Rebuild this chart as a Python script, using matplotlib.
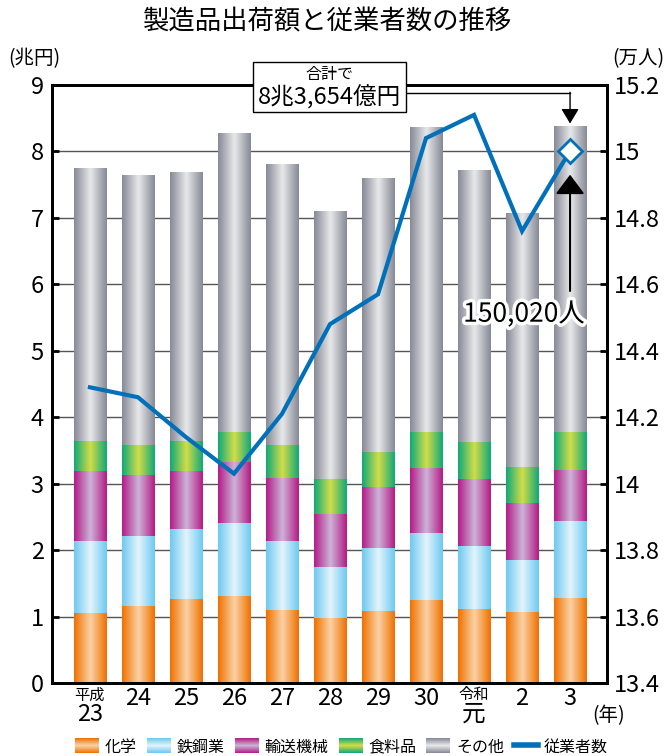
import numpy as np
import matplotlib
matplotlib.use('Agg')
import matplotlib.pyplot as plt
import matplotlib.patheffects as pe
from matplotlib.colors import LinearSegmentedColormap
from matplotlib.legend_handler import HandlerBase
from matplotlib.image import BboxImage
from matplotlib.transforms import Bbox, TransformedBbox
from matplotlib.lines import Line2D
from matplotlib.patches import Rectangle

plt.rcParams['font.family'] = ['Noto Sans CJK JP', 'DejaVu Sans']

# data (兆円)
years = ['23', '24', '25', '26', '27', '28', '29', '30', '元', '2', '3']
chemical = [1.05, 1.16, 1.26, 1.31, 1.10, 0.98, 1.08, 1.25, 1.11, 1.07, 1.28]
steel = [1.09, 1.05, 1.06, 1.10, 1.04, 0.77, 0.95, 1.01, 0.95, 0.78, 1.16]
transport = [1.05, 0.92, 0.87, 0.92, 0.95, 0.80, 0.92, 0.98, 1.01, 0.86, 0.77]
food = [0.45, 0.45, 0.45, 0.45, 0.49, 0.52, 0.53, 0.54, 0.56, 0.54, 0.56]
other = [4.10, 4.06, 4.04, 4.49, 4.22, 4.02, 4.12, 4.58, 4.08, 3.81, 4.60]
# 従業者数 (万人)
workers = [14.29, 14.26, 14.14, 14.03, 14.21, 14.48, 14.57, 15.04, 15.11, 14.76, 15.002]

series = [
    ('化学', chemical, '#EE7100', '#FBD3A6'),
    ('鉄鋼業', steel, '#6FC9F1', '#E3F4FC'),
    ('輸送機械', transport, '#B51C86', '#CBB5D8'),
    ('食料品', food, '#10A977', '#D3DD4A'),
    ('その他', other, '#878A96', '#E8E9EA'),
]
blue = '#0070BA'


def make_cmap(edge, center):
    return LinearSegmentedColormap.from_list('', [edge, center, edge])


class GradHandler(HandlerBase):
    def __init__(self, cmap):
        super().__init__()
        self.cmap = cmap

    def create_artists(self, legend, orig_handle, xdescent, ydescent,
                       width, height, fontsize, trans):
        bb = Bbox.from_bounds(-xdescent, -ydescent, width, height)
        img = BboxImage(TransformedBbox(bb, trans), cmap=self.cmap,
                        interpolation='bicubic')
        img.set_data(np.linspace(0, 1, 64).reshape(-1, 1))
        return [img]


fig = plt.figure(figsize=(6.72, 7.56), dpi=100)
ax = fig.add_axes([0.0774, 0.0966, 0.8259, 0.791])

x = np.arange(len(years))
w = 0.667
bottom = np.zeros(len(years))
grad = np.linspace(0, 1, 64).reshape(1, -1)
handles, hmap = [], {}
for name, vals, edge, center in series:
    cmap = make_cmap(edge, center)
    bars = ax.bar(x, vals, w, bottom=bottom, color='none', zorder=2)
    for b in bars:
        x0, y0 = b.get_x(), b.get_y()
        ax.imshow(grad, cmap=cmap, aspect='auto', interpolation='bicubic',
                  extent=[x0, x0 + b.get_width(), y0, y0 + b.get_height()],
                  zorder=2)
    bottom += np.array(vals)
    h = Rectangle((0, 0), 1, 1, label=name)
    handles.append(h)
    hmap[h] = GradHandler(cmap)

ax.set_xlim(-0.79, 10.77)
ax.set_ylim(0, 9)
ax.set_yticks(range(10))
ax.set_axisbelow(True)
ax.yaxis.grid(True, color='#555555', lw=1)
ax.set_xticks(x)
ax.set_xticklabels(['' if y in ('23', '元') else y for y in years])
ax.tick_params(axis='x', length=0, pad=3, labelsize=17)
ax.tick_params(axis='y', direction='in', length=5, width=2, pad=6, labelsize=17)
for s in ax.spines.values():
    s.set_linewidth(2)

# two-line era labels
xt = ax.get_xaxis_transform()
for i, era in [(0, '平成'), (8, '令和')]:
    ax.text(x[i], -0.020, era, transform=xt, ha='center', va='center', fontsize=11)
    ax.text(x[i], -0.052, years[i], transform=xt, ha='center', va='center', fontsize=17)

ax2 = ax.twinx()
ax2.set_ylim(13.4, 15.2)
rt = np.round(np.arange(13.4, 15.21, 0.2), 1)
ax2.set_yticks(rt)
ax2.set_yticklabels([f'{v:g}' for v in rt])
ax2.tick_params(axis='y', direction='in', length=5, width=2, pad=5, labelsize=17)
for s in ax2.spines.values():
    s.set_linewidth(2)
ax2.plot(x, workers, color=blue, lw=3, solid_joinstyle='miter', zorder=3)
ax2.plot(x[-1], workers[-1], 'D', ms=12, mfc='white', mec=blue, mew=2, zorder=4)

# annotations
ax2.annotate('', xy=(10, 14.93), xytext=(10, 14.58),
             arrowprops=dict(arrowstyle='-|>,head_length=0.4,head_width=0.3',
                             color='k', lw=1.5, mutation_scale=30,
                             shrinkA=0, shrinkB=0))
ax2.text(9.04, 14.51, '150,020人', ha='center', va='center', fontsize=19,
         path_effects=[pe.withStroke(linewidth=5, foreground='white')])

ax.plot([6.5, 10], [8.886, 8.886], color='k', lw=1, zorder=5)
ax.annotate('', xy=(10, 8.42), xytext=(10, 8.89),
            arrowprops=dict(arrowstyle='-|>,head_length=0.45,head_width=0.27',
                            color='k', lw=1, mutation_scale=20,
                            shrinkA=0, shrinkB=0))
fig.patches.append(Rectangle((0.3765, 0.8519), 0.2277, 0.0661,
                             transform=fig.transFigure, facecolor='white',
                             edgecolor='k', lw=1, zorder=5))
fig.text(0.491, 0.9008, '合計で', ha='center', va='center', fontsize=11.5, zorder=6)
fig.text(0.4896, 0.8717, '8兆3,654億円', ha='center', va='center', fontsize=17, zorder=6)

fig.text(0.487, 0.971, '製造品出荷額と従業者数の推移', ha='center', va='center', fontsize=19)
fig.text(0.051, 0.923, '(兆円)', ha='center', va='center', fontsize=14)
fig.text(0.950, 0.923, '(万人)', ha='center', va='center', fontsize=14)
fig.text(0.905, 0.053, '(年)', ha='center', va='center', fontsize=14)

handles.append(Line2D([], [], color=blue, lw=4, label='従業者数'))
fig.legend(handles=handles, handler_map=hmap, loc='center', ncol=6,
           bbox_to_anchor=(0.508, 0.012), frameon=False, fontsize=11.5,
           handlelength=1.45, handleheight=1.05, handletextpad=0.4,
           columnspacing=0.65, borderaxespad=0, borderpad=0)

fig.savefig('out.png', dpi=100)
